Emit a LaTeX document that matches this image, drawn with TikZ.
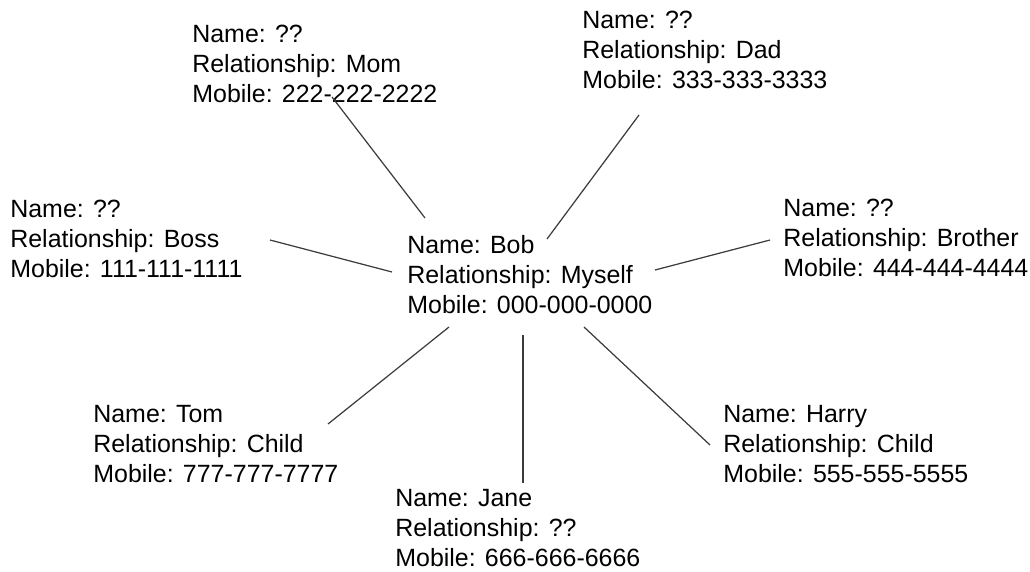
\documentclass[tikz,border=0pt]{standalone}
\usepackage{fontspec}
\setmainfont{Liberation Sans}
\usetikzlibrary{positioning}
\definecolor{linkgray}{RGB}{60,60,60}

\begin{document}
\begin{tikzpicture}[x=0.02cm,y=-0.02cm,
  card/.style={align=left,inner sep=0pt,anchor=south west,
    font=\fontsize{14.2pt}{17.07pt}\selectfont},
  link/.style={draw=linkgray,line width=0.7pt}
]
\useasboundingbox (0,0) rectangle (1030,571);

% the person in the middle
\node[card] (me) at (407,314) {Name: Bob\\Relationship: Myself\\Mobile: 000-000-0000};

% the contacts round it
\node[card] (mom) at (192,103) {Name: ??\\Relationship: Mom\\Mobile: 222-222-2222};
\node[card] (dad) at (582,89) {Name: ??\\Relationship: Dad\\Mobile: 333-333-3333};
\node[card] (boss) at (10,278) {Name: ??\\Relationship: Boss\\Mobile: 111-111-1111};
\node[card] (brother) at (783,277) {Name: ??\\Relationship: Brother\\Mobile: 444-444-4444};
\node[card] (tom) at (93,483) {Name: Tom\\Relationship: Child\\Mobile: 777-777-7777};
\node[card] (harry) at (723,483) {Name: Harry\\Relationship: Child\\Mobile: 555-555-5555};
\node[card] (jane) at (395,567) {Name: Jane\\Relationship: ??\\Mobile: 666-666-6666};

% the links
\draw[link] ([shift={(140,-6)}]mom.south west) -- ([shift={(18,-96)}]me.south west);
\draw[link] ([shift={(57,26)}]dad.south west) -- ([shift={(140,-75)}]me.south west);
\draw[link] ([shift={(260,-38)}]boss.south west) -- ([shift={(-15,-42)}]me.south west);
\draw[link] ([shift={(-13,-37)}]brother.south west) -- ([shift={(248,-44)}]me.south west);
\draw[link] ([shift={(235,-59)}]tom.south west) -- ([shift={(42,13)}]me.south west);
\draw[link] ([shift={(128,-84)}]jane.south west) -- ([shift={(116,21)}]me.south west);
\draw[link] ([shift={(-13,-38)}]harry.south west) -- ([shift={(177,13)}]me.south west);
\end{tikzpicture}
\end{document}
